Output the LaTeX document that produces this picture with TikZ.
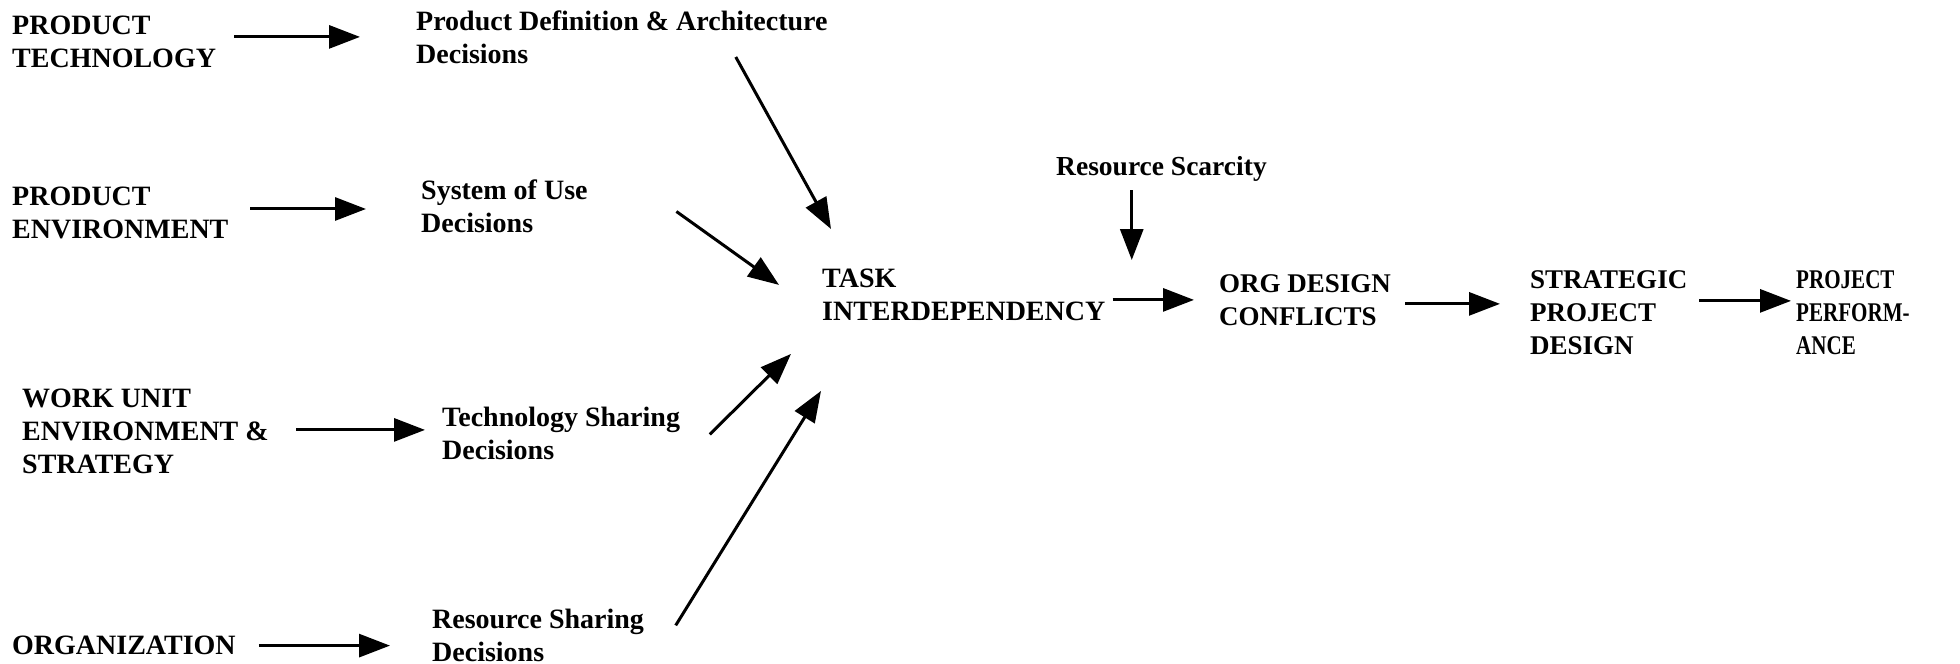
\documentclass[tikz,border=0pt]{standalone}
\usepackage{fontspec}
\setmainfont{Liberation Serif}
\usetikzlibrary{arrows.meta}

\tikzset{
  lbl/.style = {anchor=north west, inner sep=0pt, align=left,
                font=\fontsize{28}{33}\selectfont\bfseries},
  small/.style = {font=\fontsize{27}{33}\selectfont\bfseries},
  narrow/.style = {font=\fontsize{27}{33}\selectfont\bfseries\addfontfeatures{FakeStretch=0.78}},
  flow/.style = {line width=3pt, -{Triangle[length=31pt,width=23pt]}}
}

\begin{document}
\begin{tikzpicture}[x=1pt,y=-1pt]
  \useasboundingbox (0,0) rectangle (1960,664);

  % sources
  \node[lbl] (ptech) at (12,16)  {PRODUCT\\TECHNOLOGY};
  \node[lbl] (penv)  at (12,187) {PRODUCT\\ENVIRONMENT};
  \node[lbl] (wunit) at (22,389) {WORK UNIT\\ENVIRONMENT \&\\STRATEGY};
  \node[lbl] (org)   at (12,636) {ORGANIZATION};

  % decisions
  \node[lbl] (pdef)   at (416,11)  {Product Definition \& Architecture\\Decisions};
  \node[lbl] (suse)   at (421,180) {System of Use\\Decisions};
  \node[lbl] (tshare) at (442,407) {Technology Sharing\\Decisions};
  \node[lbl] (rshare) at (432,609) {Resource Sharing\\Decisions};

  % chain
  \node[lbl] (task)  at (822,269)  {TASK\\INTERDEPENDENCY};
  \node[lbl, font=\fontsize{27.5}{33}\selectfont\bfseries] (scarc) at (1056,156) {Resource Scarcity};
  \node[lbl, small] (odc) at (1219,274) {ORG DESIGN\\CONFLICTS};
  \node[lbl, small] (spd) at (1530,270) {STRATEGIC\\PROJECT\\DESIGN};
  \node[lbl, narrow] (perf) at (1796,270) {PROJECT\\PERFORM-\\ANCE};

  % sources to decisions
  \draw[flow] ([shift={(18.2,-5.2)}]ptech.east) -- ([shift={(-56,-5.2)}]ptech.east -| pdef.west);
  \draw[flow] ([shift={(21.8,-4.2)}]penv.east) -- ([shift={(-55,-4.2)}]penv.east -| suse.west);
  \draw[flow] ([shift={(27.5,-1.7)}]wunit.east) -- ([shift={(-17,-1.7)}]wunit.east -| tshare.west);
  \draw[flow] ([shift={(23,0)}]org.east) -- ([shift={(-42,0)}]org.east -| rshare.west);

  % decisions to task interdependency
  \draw[flow] ([shift={(-92,-7.4)}]pdef.south east) -- ([shift={(9,-40)}]task.north west);
  \draw[flow] ([shift={(88.6,4.8)}]suse.east) -- ([shift={(-43,-10.2)}]task.west);
  \draw[flow] ([shift={(29.6,0.8)}]tshare.east) -- ([shift={(-31,32.7)}]task.south west);
  \draw[flow] ([shift={(31.5,-10.2)}]rshare.east) -- ([shift={(-1,69.7)}]task.south west);

  % main chain
  \draw[flow, shorten >=14pt] ([shift={(-29.7,9)}]scarc.south) -- ([xshift=-29.7pt]scarc.south |- odc.north);
  \draw[flow] ([shift={(7,4.8)}]task.east) -- ([shift={(-25,4.8)}]task.east -| odc.west);
  \draw[flow] ([shift={(14,4.1)}]odc.east) -- ([shift={(-30,4.1)}]odc.east -| spd.west);
  \draw[flow] ([shift={(12,-11.4)}]spd.east) -- ([shift={(-5,-11.4)}]spd.east -| perf.west);
\end{tikzpicture}
\end{document}
